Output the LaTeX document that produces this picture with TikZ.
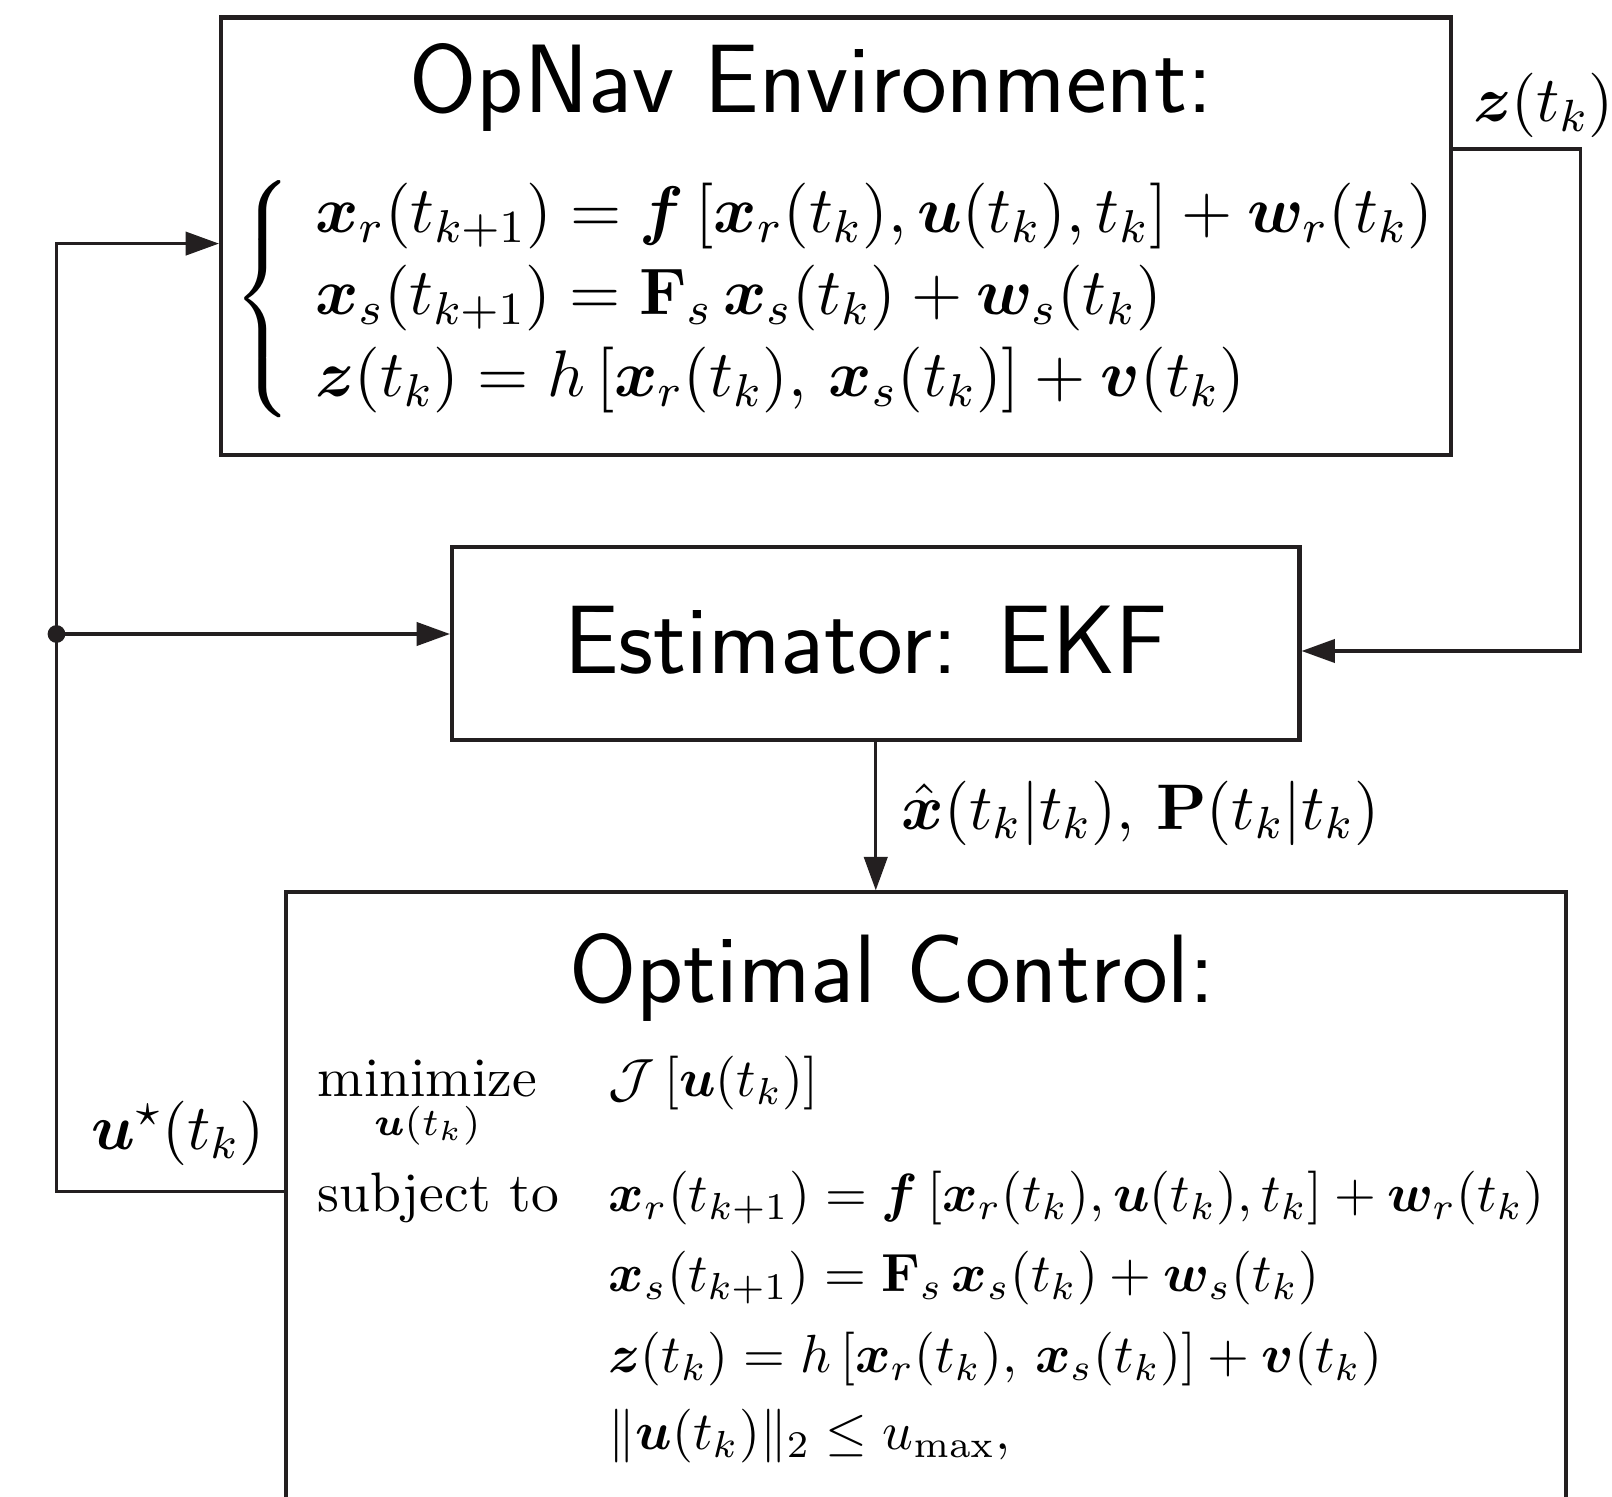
\RequirePackage{fix-cm}
\documentclass[tikz,border=0pt]{standalone}
\usepackage{graphicx}
\usepackage{amsmath,amssymb,bm}
\usetikzlibrary{arrows.meta,positioning,fit}
\definecolor{linecol}{RGB}{35,31,32}
\tikzset{
  basic/.style   = {draw=linecol, rectangle, inner sep=0pt},
  block/.style   = {basic, line width=0.75pt},
  heading/.style = {font=\fontsize{17.5}{21}\selectfont\sffamily, inner sep=0pt},
  maths/.style   = {inner sep=0pt},
  bigmaths/.style = {inner sep=0pt, font=\fontsize{11.6}{14}\selectfont},
  signal/.style  = {draw=linecol, line width=0.55pt}
}
% model equations, shared by the plant and the controller
\newcommand{\dynr}{\bm{x}_r(t_{k+1}) = \bm{f}\left[\bm{x}_r(t_k), \bm{u}(t_k), t_k\right] + \bm{w}_r(t_k)}
\newcommand{\dyns}{\bm{x}_s(t_{k+1}) = \mathbf{F}_s\, \bm{x}_s(t_k) + \bm{w}_s(t_k)}
\newcommand{\meas}{\bm{z}(t_k) = h\left[\bm{x}_r(t_k),\, \bm{x}_s(t_k)\right] + \bm{v}(t_k)}
% a slightly tighter line for the control problem
\newcommand{\cons}[1]{\scalebox{0.968}{$#1$}}

\begin{document}
\begin{tikzpicture}[x=0.18pt, y=-0.18pt,
  >={Triangle[length=6pt,width=4.2pt]}]

\clip (0,0) rectangle (1612,1496);

% the three blocks
\node[block, fit={(221,17.5) (1450.6,455.4)}] (env) {};
\node[block, fit={(452,547) (1299.5,740)}] (ekf) {};
\node[block, fit={(285.8,892.4) (1565.7,1540)}] (opt) {};

% OpNav environment
\node[bigmaths, font=\fontsize{11.85}{14}\selectfont, anchor=west] (envdyn) at (232,299)
  {\setlength{\jot}{0.8pt}$\left\{\hspace{4.3pt}\begin{aligned}
    &\dynr\\
    &\dyns\\
    &\meas
  \end{aligned}\right.$};
\node[heading, anchor=base] (envtitle) at (811,113) {OpNav Environment:};

% estimator
\node[heading, anchor=base] (ekftitle) at (866,673) {Estimator: EKF};

% optimal control problem
\node[heading, anchor=base] (opttitle) at (892,1002) {Optimal Control:};
\node[maths, anchor=base west] (optprob) at (316.6,1096)
  {$\begin{array}[t]{@{}l@{\hspace{9pt}}l@{}}
    \underset{\bm{u}(t_k)}{\text{minimize}} & \cons{\mathcal{J}\left[\bm{u}(t_k)\right]}\\[8.8pt]
    \text{subject to} & \cons{\dynr}\\[2.4pt]
    & \cons{\dyns}\\[2.6pt]
    & \cons{\meas}\\[1.8pt]
    & \cons{\|\bm{u}(t_k)\|_2 \le u_{\max},}
  \end{array}$};

% signals
\coordinate (zout) at (1580,149);
\coordinate (zin) at (1580,651);
\coordinate (fb) at (56.5,1191.5);
\coordinate (fbtop) at (56.5,243.6);
\coordinate (split) at (56.5,634);

\draw[signal,->] (env.east |- zout) -- (zout) -- (zin) -- (zin -| ekf.east);
\draw[signal,->] (ekf.south) -- (ekf.south |- opt.north);
\draw[signal,->] (opt.west |- fb) -- (fb) -- (fbtop) -- (fbtop -| env.west);
\draw[signal,->] (split) -- (split -| ekf.west);
\fill[linecol] (split) circle [radius=1.6pt];

% signal labels
\node[bigmaths, anchor=base west] (zlabel) at (1472,122) {$\bm{z}(t_k)$};
\node[bigmaths, anchor=base west] (estlabel) at (900.6,829)
  {$\hat{\bm{x}}(t_k|t_k),\, \mathbf{P}(t_k|t_k)$};
\node[bigmaths, anchor=base west] (ulabel) at (90.5,1149) {$\bm{u}^\star(t_k)$};

\end{tikzpicture}
\end{document}
